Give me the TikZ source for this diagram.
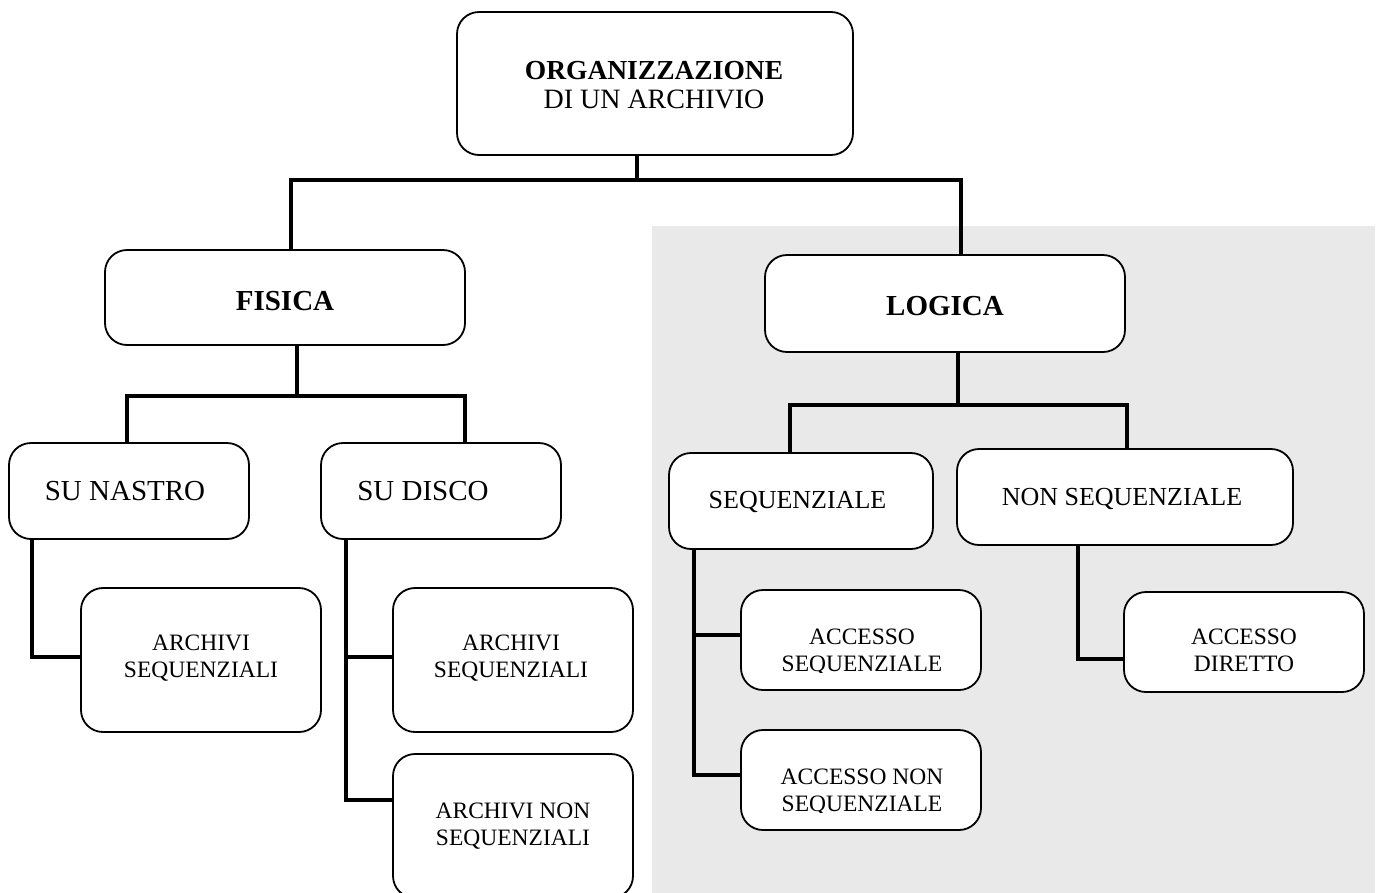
\documentclass[tikz,border=0pt]{standalone}
\usepackage{fontspec}
\setmainfont{Liberation Serif}
\begin{document}
\begin{tikzpicture}[x=1pt,y=-1pt,
  box/.style={draw, line width=1.8pt, rounded corners=22pt, fill=white, inner sep=0pt},
  conn/.style={line width=3.6pt},
  txt/.style={inner sep=0pt, align=center, anchor=base},
  big/.style={font=\fontsize{29}{33}\selectfont},
  mid/.style={font=\fontsize{26}{30}\selectfont},
  small/.style={font=\fontsize{23.5}{27}\selectfont}]
\definecolor{bggray}{HTML}{E9E9E9}
\useasboundingbox (0,0) rectangle (1381,892);
\clip (0,0) rectangle (1381,892);
% grey background
\fill[bggray] (652,226) rectangle (1375,900);
% boxes
\node[box, minimum width=396pt, minimum height=143pt] (root) at (655,83.5) {};
\node[box, minimum width=360pt, minimum height=95pt] (fisica) at (285,297.5) {};
\node[box, minimum width=360pt, minimum height=97pt] (logica) at (945,303.5) {};
\node[box, minimum width=240pt, minimum height=96pt] (nastro) at (129,491) {};
\node[box, minimum width=240pt, minimum height=96pt] (disco) at (441,491) {};
\node[box, minimum width=264pt, minimum height=96pt] (seq) at (801,501) {};
\node[box, minimum width=336pt, minimum height=96pt] (nonseq) at (1125,497) {};
\node[box, minimum width=240pt, minimum height=144pt] (archL) at (201,660) {};
\node[box, minimum width=240pt, minimum height=144pt] (archR) at (513,660) {};
\node[box, minimum width=240pt, minimum height=144pt] (archN) at (513,826) {};
\node[box, minimum width=240pt, minimum height=100pt] (accS) at (861,640) {};
\node[box, minimum width=240pt, minimum height=100pt] (accN) at (861,780) {};
\node[box, minimum width=240pt, minimum height=100pt] (accD) at (1244,642) {};
% texts (anchor base = baseline of the last line)
\node[txt, font=\fontsize{28}{29}\selectfont] (troot) at (654,108)
  {{\fontsize{27.5}{29}\selectfont\bfseries ORGANIZZAZIONE}\\DI UN ARCHIVIO};
\node[txt, big] (tfisica) at (285,310) {\textbf{FISICA}};
\node[txt, big] (tlogica) at (945,315) {\textbf{LOGICA}};
\node[txt, big] (tnastro) at (125,500) {SU NASTRO};
\node[txt, big] (tdisco) at (423,500) {SU DISCO};
\node[txt, mid] (tseq) at (797.5,508) {SEQUENZIALE};
\node[txt, mid] (tnonseq) at (1122,505) {NON SEQUENZIALE};
\node[txt, small] (tarchL) at (201,677) {ARCHIVI\\SEQUENZIALI};
\node[txt, small] (tarchR) at (511,677) {ARCHIVI\\SEQUENZIALI};
\node[txt, small] (tarchN) at (513,845) {ARCHIVI NON\\SEQUENZIALI};
\begin{scope}
  \clip (741,590) rectangle (981,672);
  \node[txt, small] (taccS) at (862,671) {ACCESSO\\SEQUENZIALE};
\end{scope}
\begin{scope}
  \clip (741,730) rectangle (981,812);
  \node[txt, small] (taccN) at (862,811) {ACCESSO NON\\SEQUENZIALE};
\end{scope}
\begin{scope}
  \clip (1124,592) rectangle (1364,671);
  \node[txt, small] (taccD) at (1244,671) {ACCESSO\\DIRETTO};
\end{scope}
% connectors
\coordinate (fa) at (291,180);
\coordinate (la) at (961,180);
\coordinate (ra) at (637,180);
\draw[conn] (ra |- root.south) -- (ra);
\draw[conn, line cap=rect] (fa |- fisica.north) -- (fa) -- (la) -- (la |- logica.north);
\coordinate (fb) at (297,396);
\coordinate (na) at (127,396);
\coordinate (da) at (465,396);
\draw[conn] (fb |- fisica.south) -- (fb);
\draw[conn, line cap=rect] (na |- nastro.north) -- (na) -- (da) -- (da |- disco.north);
\coordinate (lb) at (958,405);
\coordinate (sa) at (790,405);
\coordinate (ta) at (1127,405);
\draw[conn] (lb |- logica.south) -- (lb);
\draw[conn, line cap=rect] (sa |- seq.north) -- (sa) -- (ta) -- (ta |- nonseq.north);
% su nastro
\coordinate (n1) at (32,657);
\draw[conn] (n1 |- nastro.south) -- (n1) -- (archL.west |- n1);
% su disco
\coordinate (d1) at (346,657);
\coordinate (d2) at (346,800);
\draw[conn] (d1 |- disco.south) -- (d2) -- (archN.west |- d2);
\draw[conn] (d1) -- (archR.west |- d1);
% sequenziale
\coordinate (s1) at (694,635);
\coordinate (s2) at (694,775);
\draw[conn] (s1 |- seq.south) -- (s2) -- (accN.west |- s2);
\draw[conn] (s1) -- (accS.west |- s1);
% non sequenziale
\coordinate (q1) at (1078,659);
\draw[conn] (q1 |- nonseq.south) -- (q1) -- (accD.west |- q1);
\end{tikzpicture}
\end{document}
